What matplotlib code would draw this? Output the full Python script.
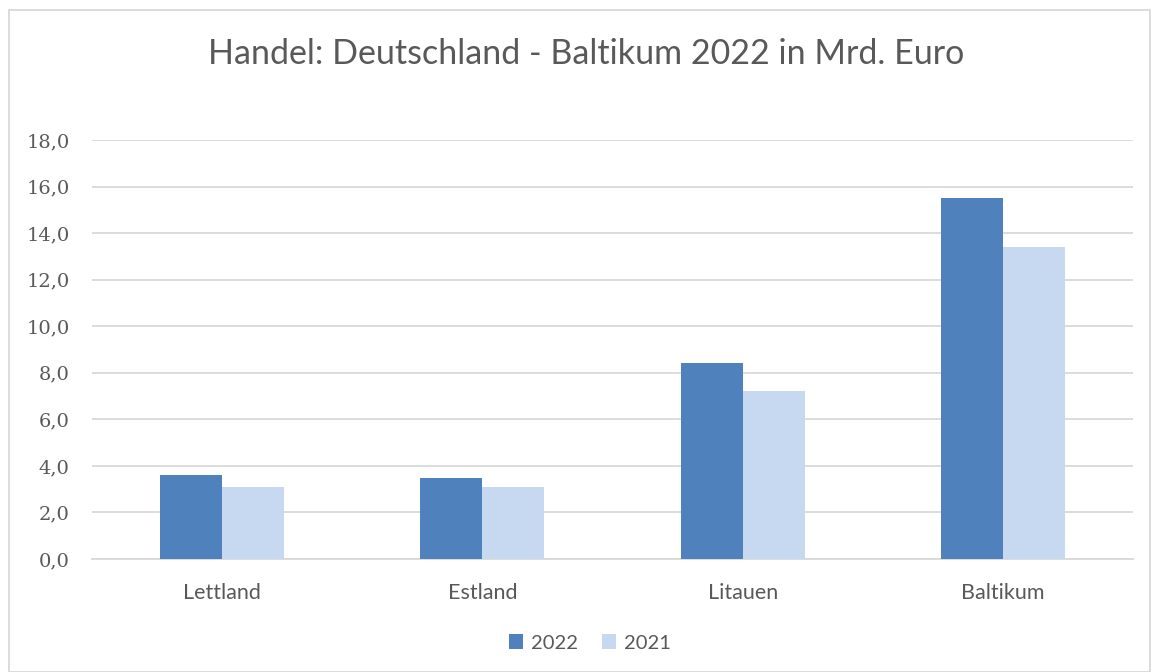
import matplotlib.pyplot as plt
import numpy as np
from matplotlib.patches import Rectangle

# Daten
laender = ["Lettland", "Estland", "Litauen", "Baltikum"]
werte_2022 = [3.6, 3.5, 8.4, 15.5]
werte_2021 = [3.1, 3.1, 7.2, 13.4]
y_ticks = [0, 2, 4, 6, 8, 10, 12, 14, 16, 18]

farbe_2022 = "#4F81BD"
farbe_2021 = "#C6D9F0"
grau = "#595959"

fig = plt.figure(figsize=(11.51, 6.72), dpi=100)
ax = fig.add_axes([92 / 1151, 1 - 559 / 672, (1133 - 92) / 1151, (559 - 140) / 672])

x = np.arange(len(laender))
breite = 0.238
ax.bar(x - breite / 2, werte_2022, breite, color=farbe_2022, label="2022", zorder=3)
ax.bar(x + breite / 2, werte_2021, breite, color=farbe_2021, label="2021", zorder=3)

ax.set_xlim(-0.5, len(laender) - 0.5)
ax.set_ylim(0, 18)
ax.set_yticks(y_ticks)
ax.set_yticklabels([f"{v:.1f}".replace(".", ",") for v in y_ticks],
                   family="DejaVu Serif", fontsize=14, color=grau)
ax.set_xticks(x)
ax.set_xticklabels(laender, family="Lato", fontsize=15.5, color=grau)
ax.tick_params(axis="both", length=0)
ax.tick_params(axis="y", pad=16)
ax.tick_params(axis="x", pad=17)

ax.grid(axis="y", color="#D9D9D9", linewidth=1.3, zorder=0)
for s in ["top", "right", "left"]:
    ax.spines[s].set_visible(False)
ax.spines["bottom"].set_color("#D9D9D9")
ax.spines["bottom"].set_linewidth(1.3)

fig.text(586 / 1151, 1 - 54 / 672, "Handel: Deutschland - Baltikum 2022 in Mrd. Euro",
         ha="center", va="center", family="Lato", fontsize=24.5, color=grau)

fig.legend(loc="center", bbox_to_anchor=(590 / 1151, 1 - 643 / 672), ncol=2, frameon=False,
           prop={"family": "Lato", "size": 14.5}, labelcolor=grau,
           handlelength=0.7, handleheight=0.7, handletextpad=0.4, columnspacing=1.2)

# Rahmen um das Diagramm
fig.patches.append(Rectangle((9 / 1151, 0), 1 - 9 / 1151 - 0.001, 1 - 10 / 672,
                             transform=fig.transFigure, fill=False,
                             edgecolor="#D9D9D9", linewidth=1.3))

fig.savefig("out.png", dpi=100)
